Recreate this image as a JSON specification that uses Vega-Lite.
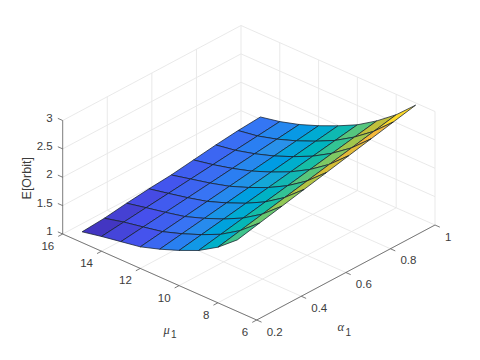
{
"$schema":"https://vega.github.io/schema/vega-lite/v6.json",
"width":480,"height":360,"padding":0,"autosize":{"type":"fit","contains":"padding"},
"background":"white","view":{"stroke":null},
"config":{"text":{"font":"Liberation Sans","fontSize":11.5,"fill":"#3c3c3c"}},
"datasets":{
"surface":[
{"mu":15,"alpha":1.0,"e":1.54},{"mu":14,"alpha":1.0,"e":1.61},{"mu":13,"alpha":1.0,"e":1.71},{"mu":12,"alpha":1.0,"e":1.84},{"mu":11,"alpha":1.0,"e":1.99},{"mu":10,"alpha":1.0,"e":2.16},{"mu":9,"alpha":1.0,"e":2.38},{"mu":8,"alpha":1.0,"e":2.64},{"mu":7,"alpha":1.0,"e":2.96},
{"mu":15,"alpha":0.9,"e":1.51},{"mu":14,"alpha":0.9,"e":1.566},{"mu":13,"alpha":0.9,"e":1.661},{"mu":12,"alpha":0.9,"e":1.783},{"mu":11,"alpha":0.9,"e":1.928},{"mu":10,"alpha":0.9,"e":2.093},{"mu":9,"alpha":0.9,"e":2.304},{"mu":8,"alpha":0.9,"e":2.558},{"mu":7,"alpha":0.9,"e":2.873},
{"mu":15,"alpha":0.8,"e":1.465},{"mu":14,"alpha":0.8,"e":1.523},{"mu":13,"alpha":0.8,"e":1.613},{"mu":12,"alpha":0.8,"e":1.725},{"mu":11,"alpha":0.8,"e":1.865},{"mu":10,"alpha":0.8,"e":2.025},{"mu":9,"alpha":0.8,"e":2.228},{"mu":8,"alpha":0.8,"e":2.475},{"mu":7,"alpha":0.8,"e":2.785},
{"mu":15,"alpha":0.7,"e":1.41},{"mu":14,"alpha":0.7,"e":1.479},{"mu":13,"alpha":0.7,"e":1.564},{"mu":12,"alpha":0.7,"e":1.668},{"mu":11,"alpha":0.7,"e":1.803},{"mu":10,"alpha":0.7,"e":1.958},{"mu":9,"alpha":0.7,"e":2.151},{"mu":8,"alpha":0.7,"e":2.393},{"mu":7,"alpha":0.7,"e":2.698},
{"mu":15,"alpha":0.6,"e":1.355},{"mu":14,"alpha":0.6,"e":1.435},{"mu":13,"alpha":0.6,"e":1.515},{"mu":12,"alpha":0.6,"e":1.61},{"mu":11,"alpha":0.6,"e":1.74},{"mu":10,"alpha":0.6,"e":1.89},{"mu":9,"alpha":0.6,"e":2.075},{"mu":8,"alpha":0.6,"e":2.31},{"mu":7,"alpha":0.6,"e":2.61},
{"mu":15,"alpha":0.5,"e":1.32},{"mu":14,"alpha":0.5,"e":1.391},{"mu":13,"alpha":0.5,"e":1.466},{"mu":12,"alpha":0.5,"e":1.553},{"mu":11,"alpha":0.5,"e":1.678},{"mu":10,"alpha":0.5,"e":1.823},{"mu":9,"alpha":0.5,"e":1.999},{"mu":8,"alpha":0.5,"e":2.228},{"mu":7,"alpha":0.5,"e":2.523},
{"mu":15,"alpha":0.4,"e":1.275},{"mu":14,"alpha":0.4,"e":1.348},{"mu":13,"alpha":0.4,"e":1.418},{"mu":12,"alpha":0.4,"e":1.495},{"mu":11,"alpha":0.4,"e":1.615},{"mu":10,"alpha":0.4,"e":1.755},{"mu":9,"alpha":0.4,"e":1.923},{"mu":8,"alpha":0.4,"e":2.145},{"mu":7,"alpha":0.4,"e":2.435},
{"mu":15,"alpha":0.3,"e":1.22},{"mu":14,"alpha":0.3,"e":1.304},{"mu":13,"alpha":0.3,"e":1.369},{"mu":12,"alpha":0.3,"e":1.438},{"mu":11,"alpha":0.3,"e":1.553},{"mu":10,"alpha":0.3,"e":1.688},{"mu":9,"alpha":0.3,"e":1.846},{"mu":8,"alpha":0.3,"e":2.063},{"mu":7,"alpha":0.3,"e":2.348},
{"mu":15,"alpha":0.2,"e":1.19},{"mu":14,"alpha":0.2,"e":1.26},{"mu":13,"alpha":0.2,"e":1.32},{"mu":12,"alpha":0.2,"e":1.38},{"mu":11,"alpha":0.2,"e":1.49},{"mu":10,"alpha":0.2,"e":1.62},{"mu":9,"alpha":0.2,"e":1.77},{"mu":8,"alpha":0.2,"e":1.98},{"mu":7,"alpha":0.2,"e":2.26}
],
"grid":[
{"mu":6,"alpha":0.2,"e":1,"mu2":6,"alpha2":1,"e2":1},{"mu":8,"alpha":0.2,"e":1,"mu2":8,"alpha2":1,"e2":1},{"mu":10,"alpha":0.2,"e":1,"mu2":10,"alpha2":1,"e2":1},{"mu":12,"alpha":0.2,"e":1,"mu2":12,"alpha2":1,"e2":1},{"mu":14,"alpha":0.2,"e":1,"mu2":14,"alpha2":1,"e2":1},{"mu":16,"alpha":0.2,"e":1,"mu2":16,"alpha2":1,"e2":1},
{"mu":6,"alpha":0.2,"e":1,"mu2":16,"alpha2":0.2,"e2":1},{"mu":6,"alpha":0.4,"e":1,"mu2":16,"alpha2":0.4,"e2":1},{"mu":6,"alpha":0.6,"e":1,"mu2":16,"alpha2":0.6,"e2":1},{"mu":6,"alpha":0.8,"e":1,"mu2":16,"alpha2":0.8,"e2":1},{"mu":6,"alpha":1,"e":1,"mu2":16,"alpha2":1,"e2":1},
{"mu":6,"alpha":1,"e":1,"mu2":6,"alpha2":1,"e2":3},{"mu":8,"alpha":1,"e":1,"mu2":8,"alpha2":1,"e2":3},{"mu":10,"alpha":1,"e":1,"mu2":10,"alpha2":1,"e2":3},{"mu":12,"alpha":1,"e":1,"mu2":12,"alpha2":1,"e2":3},{"mu":14,"alpha":1,"e":1,"mu2":14,"alpha2":1,"e2":3},{"mu":16,"alpha":1,"e":1,"mu2":16,"alpha2":1,"e2":3},
{"mu":6,"alpha":1,"e":1.5,"mu2":16,"alpha2":1,"e2":1.5},{"mu":6,"alpha":1,"e":2,"mu2":16,"alpha2":1,"e2":2},{"mu":6,"alpha":1,"e":2.5,"mu2":16,"alpha2":1,"e2":2.5},{"mu":6,"alpha":1,"e":3,"mu2":16,"alpha2":1,"e2":3},
{"mu":16,"alpha":0.4,"e":1,"mu2":16,"alpha2":0.4,"e2":3},{"mu":16,"alpha":0.6,"e":1,"mu2":16,"alpha2":0.6,"e2":3},{"mu":16,"alpha":0.8,"e":1,"mu2":16,"alpha2":0.8,"e2":3},
{"mu":16,"alpha":0.2,"e":1.5,"mu2":16,"alpha2":1,"e2":1.5},{"mu":16,"alpha":0.2,"e":2,"mu2":16,"alpha2":1,"e2":2},{"mu":16,"alpha":0.2,"e":2.5,"mu2":16,"alpha2":1,"e2":2.5},{"mu":16,"alpha":0.2,"e":3,"mu2":16,"alpha2":1,"e2":3}
],
"axes":[
{"mu":16,"alpha":0.2,"e":1,"mu2":16,"alpha2":0.2,"e2":3},{"mu":16,"alpha":0.2,"e":1,"mu2":6,"alpha2":0.2,"e2":1},{"mu":6,"alpha":0.2,"e":1,"mu2":6,"alpha2":1,"e2":1},
{"mu":6,"alpha":0.2,"e":1,"mu2":6,"alpha2":0.18,"e2":1},{"mu":8,"alpha":0.2,"e":1,"mu2":8,"alpha2":0.18,"e2":1},{"mu":10,"alpha":0.2,"e":1,"mu2":10,"alpha2":0.18,"e2":1},{"mu":12,"alpha":0.2,"e":1,"mu2":12,"alpha2":0.18,"e2":1},{"mu":14,"alpha":0.2,"e":1,"mu2":14,"alpha2":0.18,"e2":1},{"mu":16,"alpha":0.2,"e":1,"mu2":16,"alpha2":0.18,"e2":1},
{"mu":6,"alpha":0.2,"e":1,"mu2":5.75,"alpha2":0.2,"e2":1},{"mu":6,"alpha":0.4,"e":1,"mu2":5.75,"alpha2":0.4,"e2":1},{"mu":6,"alpha":0.6,"e":1,"mu2":5.75,"alpha2":0.6,"e2":1},{"mu":6,"alpha":0.8,"e":1,"mu2":5.75,"alpha2":0.8,"e2":1},{"mu":6,"alpha":1,"e":1,"mu2":5.75,"alpha2":1,"e2":1},
{"mu":16,"alpha":0.2,"e":1,"mu2":16.25,"alpha2":0.2,"e2":1},{"mu":16,"alpha":0.2,"e":1.5,"mu2":16.25,"alpha2":0.2,"e2":1.5},{"mu":16,"alpha":0.2,"e":2,"mu2":16.25,"alpha2":0.2,"e2":2},{"mu":16,"alpha":0.2,"e":2.5,"mu2":16.25,"alpha2":0.2,"e2":2.5},{"mu":16,"alpha":0.2,"e":3,"mu2":16.25,"alpha2":0.2,"e2":3}
]
},
"encoding":{
"x":{"field":"px","type":"quantitative","scale":{"domain":[0,480],"nice":false,"zero":false},"axis":null},
"y":{"field":"py","type":"quantitative","scale":{"domain":[360,0],"nice":false,"zero":false},"axis":null}
},
"layer":[
{"data":{"name":"grid"},
"transform":[
{"calculate":"256.7-19.4*(datum.mu-6)+222.875*(datum.alpha-0.2)","as":"px"},
{"calculate":"320-8.6*(datum.mu-6)-118.75*(datum.alpha-0.2)-56.75*(datum.e-1)","as":"py"},
{"calculate":"256.7-19.4*(datum.mu2-6)+222.875*(datum.alpha2-0.2)","as":"px2"},
{"calculate":"320-8.6*(datum.mu2-6)-118.75*(datum.alpha2-0.2)-56.75*(datum.e2-1)","as":"py2"}],
"mark":{"type":"rule","stroke":"#e6e6e6","strokeWidth":0.9},
"encoding":{"x2":{"field":"px2"},"y2":{"field":"py2"}}},
{"data":{"name":"axes"},
"transform":[
{"calculate":"256.7-19.4*(datum.mu-6)+222.875*(datum.alpha-0.2)","as":"px"},
{"calculate":"320-8.6*(datum.mu-6)-118.75*(datum.alpha-0.2)-56.75*(datum.e-1)","as":"py"},
{"calculate":"256.7-19.4*(datum.mu2-6)+222.875*(datum.alpha2-0.2)","as":"px2"},
{"calculate":"320-8.6*(datum.mu2-6)-118.75*(datum.alpha2-0.2)-56.75*(datum.e2-1)","as":"py2"}],
"mark":{"type":"rule","stroke":"#5a5a5a","strokeWidth":0.8},
"encoding":{"x2":{"field":"px2"},"y2":{"field":"py2"}}},
{"data":{"name":"surface"},
"transform":[
{"calculate":"[0,1,2,3]","as":"k"},{"flatten":["k"]},
{"calculate":"datum.mu-((datum.k==1||datum.k==2)?1:0)","as":"cm"},
{"calculate":"round((datum.alpha-0.2)*10)-(datum.k>=2?1:0)","as":"ca"},
{"filter":"datum.cm>=7&&datum.cm<=14&&datum.ca>=0&&datum.ca<=7"},
{"calculate":"datum.cm+'_'+datum.ca","as":"cell"},
{"calculate":"datum.k==0?datum.e:null","as":"e0"},
{"joinaggregate":[{"op":"mean","field":"e0","as":"ce"}],"groupby":["cell"]},
{"calculate":"256.7-19.4*(datum.mu-6)+222.875*(datum.alpha-0.2)","as":"px"},
{"calculate":"320-8.6*(datum.mu-6)-118.75*(datum.alpha-0.2)-56.75*(datum.e-1)","as":"py"}],
"mark":{"type":"line","filled":true,"interpolate":"linear-closed","stroke":"#16202e","strokeWidth":0.75},
"encoding":{
"detail":{"field":"cell"},
"order":{"field":"k","type":"quantitative"},
"fill":{"field":"ce","type":"quantitative","legend":null,"scale":{
"domain":[1.19,1.367,1.544,1.721,1.898,2.075,2.252,2.429,2.606,2.783,2.96],
"range":["#3e26a8","#4650ec","#3a72f4","#2b90ea","#18a8d6","#12b8b4","#3cc48e","#90c858","#d2bc36","#f4b83c","#f9fb15"]}}
}},
{"data":{"values":[{"t":"16","mu":16},{"t":"14","mu":14},{"t":"12","mu":12},{"t":"10","mu":10},{"t":"8","mu":8},{"t":"6","mu":6}]},
"transform":[{"calculate":"256.7-19.4*(datum.mu-6)","as":"px"},{"calculate":"320-8.6*(datum.mu-6)","as":"py"}],
"mark":{"type":"text","align":"right","baseline":"middle","dx":-8.5,"dy":13},"encoding":{"text":{"field":"t"}}},
{"data":{"values":[{"t":"0.2","alpha":0.2},{"t":"0.4","alpha":0.4},{"t":"0.6","alpha":0.6},{"t":"0.8","alpha":0.8},{"t":"1","alpha":1}]},
"transform":[{"calculate":"256.7+222.875*(datum.alpha-0.2)","as":"px"},{"calculate":"320-118.75*(datum.alpha-0.2)","as":"py"}],
"mark":{"type":"text","align":"left","baseline":"middle","dx":10,"dy":12.5},"encoding":{"text":{"field":"t"}}},
{"data":{"values":[{"t":"1","e":1},{"t":"1.5","e":1.5},{"t":"2","e":2},{"t":"2.5","e":2.5},{"t":"3","e":3}]},
"transform":[{"calculate":"62.7","as":"px"},{"calculate":"234-56.75*(datum.e-1)","as":"py"}],
"mark":{"type":"text","align":"right","baseline":"middle","dx":-10,"dy":-2},"encoding":{"text":{"field":"t"}}},
{"data":{"values":[{"t":"E[Orbit]","e":2}]},
"transform":[{"calculate":"62.7","as":"px"},{"calculate":"234-56.75*(datum.e-1)","as":"py"}],
"mark":{"type":"text","align":"center","baseline":"middle","angle":270,"dx":-1,"dy":-36,"fontSize":12.5},"encoding":{"text":{"field":"t"}}},
{"data":{"values":[{"t":"μ","mu":11}]},
"transform":[{"calculate":"256.7-19.4*(datum.mu-6)","as":"px"},{"calculate":"320-8.6*(datum.mu-6)","as":"py"}],
"mark":{"type":"text","align":"center","baseline":"middle","dx":7,"dy":53,"fontSize":12.5,"fontStyle":"italic","font":"Liberation Serif"},"encoding":{"text":{"field":"t"}}},
{"data":{"values":[{"t":"1","mu":11}]},
"transform":[{"calculate":"256.7-19.4*(datum.mu-6)","as":"px"},{"calculate":"320-8.6*(datum.mu-6)","as":"py"}],
"mark":{"type":"text","align":"center","baseline":"middle","dx":14,"dy":58,"fontSize":10},"encoding":{"text":{"field":"t"}}},
{"data":{"values":[{"t":"α","alpha":0.6}]},
"transform":[{"calculate":"256.7+222.875*(datum.alpha-0.2)","as":"px"},{"calculate":"320-118.75*(datum.alpha-0.2)","as":"py"}],
"mark":{"type":"text","align":"center","baseline":"middle","dx":-5,"dy":54.5,"fontSize":12.5,"fontStyle":"italic","font":"Liberation Serif"},"encoding":{"text":{"field":"t"}}},
{"data":{"values":[{"t":"1","alpha":0.6}]},
"transform":[{"calculate":"256.7+222.875*(datum.alpha-0.2)","as":"px"},{"calculate":"320-118.75*(datum.alpha-0.2)","as":"py"}],
"mark":{"type":"text","align":"center","baseline":"middle","dx":2.5,"dy":60,"fontSize":10},"encoding":{"text":{"field":"t"}}}
]
}
